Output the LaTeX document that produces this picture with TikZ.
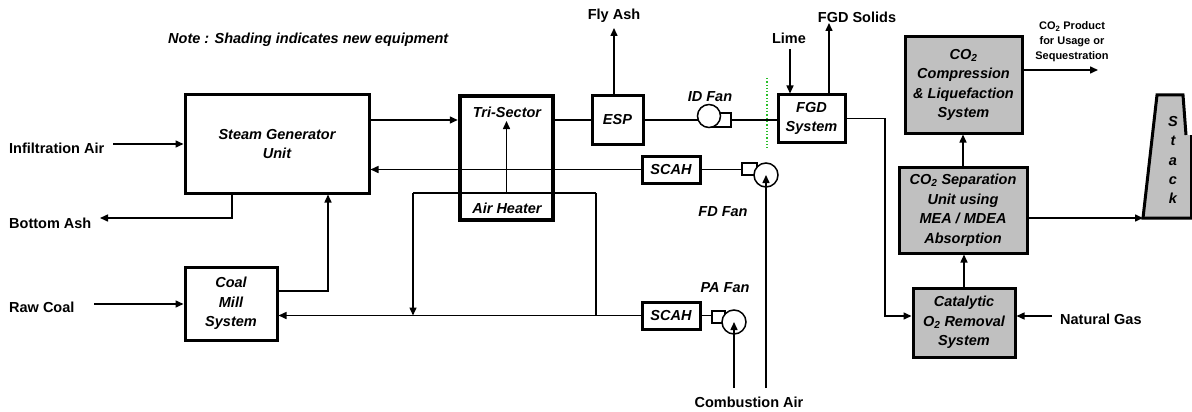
\documentclass[tikz,border=0pt]{standalone}
\usepackage{fontspec}
\setmainfont{Liberation Sans}
\usetikzlibrary{arrows.meta,calc,backgrounds}
\definecolor{dotgreen}{RGB}{40,190,40}
\definecolor{newfill}{RGB}{192,192,192}
\begin{document}
\begin{tikzpicture}[x=1pt,y=-1pt,
 lbl/.style={font=\fontsize{14.5}{19.5}\selectfont\bfseries, inner sep=0pt},
 ilbl/.style={font=\fontsize{14.5}{19.5}\selectfont\bfseries\itshape, inner sep=0pt},
 box/.style={draw, line width=3pt, inner sep=0pt, align=center, font=\fontsize{14.5}{19.5}\selectfont\bfseries\itshape},
 newbox/.style={box, fill=newfill},
 conn/.style={line width=1.5pt},
 arr/.style={conn, -{Triangle[length=8pt,width=7pt]}},
 fanrect/.style={draw, line width=1.5pt, fill=white, inner sep=0pt},
 fanc/.style={draw, line width=1.5pt, fill=white, circle, inner sep=0pt}]
\useasboundingbox (0,0) rectangle (1192,412);

% boxes
\node[box, minimum width=184pt, minimum height=98pt] (sg) at (277,144) {Steam Generator\\Unit};
\node[box, minimum width=92pt, minimum height=73pt] (cm) at (231,303.5) {Coal\\Mill\\System};
\node[draw, line width=4.5pt, minimum width=93pt, minimum height=124pt, inner sep=0pt] (ts) at (506.5,158) {};
\node[ilbl] (tstxt) at (507,112) {Tri-Sector};
\node[ilbl] (ahtxt) at (507,208) {Air Heater};
\node[box, fill=white, minimum width=51pt, minimum height=48pt] (esp) at (617.5,120) {ESP};
\node[box, fill=white, minimum width=67pt, minimum height=47pt] (fgd) at (811.5,118.5) {FGD\\System};
\node[box, fill=white, minimum width=58pt, minimum height=27pt] (scah1) at (671,169.5) {SCAH};
\node[box, fill=white, minimum width=58pt, minimum height=27pt] (scah2) at (671,315.5) {SCAH};
\node[newbox, minimum width=117pt, minimum height=96pt] (comp) at (963.5,85) {CO\textsubscript{2}\\Compression\\\& Liquefaction\\System};
\node[newbox, minimum width=128pt, minimum height=86pt] (sep) at (963,210) {CO\textsubscript{2} Separation\\Unit using\\MEA / MDEA\\Absorption};
\node[newbox, minimum width=102pt, minimum height=69pt] (cat) at (964,322.5) {Catalytic\\O\textsubscript{2} Removal\\System};

% fans
\node[fanrect, minimum width=21pt, minimum height=14pt] (idr) at (720.5,120) {};
\node[fanc, minimum size=23pt] (idc) at (709,116) {};
\node[fanrect, minimum width=15pt, minimum height=12pt] (fdr) at (749.5,169) {};
\node[fanc, minimum size=24pt] (fdc) at (766,175) {};
\node[fanrect, minimum width=13pt, minimum height=12pt] (par) at (718.5,317) {};
\node[fanc, minimum size=24pt] (pac) at (734,322) {};

% labels
\node[lbl, anchor=west] (ia) at (9,148) {Infiltration Air};
\node[lbl, anchor=west] (ba) at (9,223) {Bottom Ash};
\node[lbl, anchor=west] (rc) at (9,307) {Raw Coal};
\node[ilbl, anchor=west] (note) at (168,40) {Note : Shading indicates new equipment};
\node[lbl] (fa) at (614,16) {Fly Ash};
\node[ilbl] (idl) at (710,97) {ID Fan};
\node[lbl] (lime) at (789,38) {Lime};
\node[lbl] (fgds) at (857,17) {FGD Solids};
\node[ilbl] (fdl) at (723,212) {FD Fan};
\node[ilbl] (pal) at (725,288) {PA Fan};
\node[lbl] (ca) at (749,402) {Combustion Air};
\node[lbl, anchor=west] (ng) at (1060,319) {Natural Gas};
\node[font=\fontsize{11}{15}\selectfont\bfseries, align=center, inner sep=0pt] (prod) at (1072,42) {CO\textsubscript{2} Product\\for Usage or\\Sequestration};

% stack
\fill[newfill] (1143,218) -- (1157,95) -- (1183,95) -- (1186,135) -- (1196,135) -- (1196,218) -- cycle;
\draw[line width=3pt, line join=miter] (1196,218) -- (1143,218) -- (1157,95) -- (1183,95) -- (1186,135);
\draw[line width=3pt] (1191.5,135) -- (1191.5,218);
\node[ilbl, align=center, font=\fontsize{14.5}{19.2}\selectfont\bfseries\itshape] (stk) at (1173,160) {S\\t\\a\\c\\k};

% free ends
\coordinate (iaS) at (113,144);
\coordinate (baK) at (232,0);
\coordinate (baE) at (100,218);
\coordinate (rcS) at (94,304);
\coordinate (cmK) at (328,0);
\coordinate (lA) at (413,193);
\coordinate (lB) at (596,193);
\coordinate (flyE) at (614,28);
\coordinate (limeS) at (790,49);
\coordinate (fgdsE) at (829,23);
\coordinate (fgdK) at (885,0);
\coordinate (catL) at ($(cat.west)+(0,-6.5)$);
\coordinate (ngS) at (1052,316);
\coordinate (prodE) at (1098,70);
\coordinate (stackB) at (1143,218);
\coordinate (caPA) at (734,388);
\coordinate (caFD) at (766,388);

\begin{scope}[on background layer]
\draw[arr] (iaS) -- (sg.west |- iaS);
\draw[arr] (sg.south -| baK) |- (baE);
\draw[arr] (rcS) -- (cm.west |- rcS);
\draw[arr] ($(cm.east)+(0,-12.5)$) -| (cmK |- sg.south);
\draw[arr] (sg.east |- esp.west) -- (ts.west |- esp.west);
\draw[conn] (ts.east |- esp.west) -- (esp.west);
\draw[conn] (esp.east) -- (idc.center |- esp.east);
\draw[conn] (idr.east |- esp.east) -- (fgd.west |- esp.east);
\draw[arr] (esp.north -| flyE) -- (flyE);
\draw[arr] (limeS) -- (fgd.north -| limeS);
\draw[arr] (fgd.north -| fgdsE) -- (fgdsE);
\draw[arr] (fgd.east) -| (fgdK |- catL) -- (catL);
\draw[arr] (ngS) -- (cat.east |- ngS);
\draw[arr] (cat.north) -- (cat.north |- sep.south);
\draw[arr] (sep.north) -- (sep.north |- comp.south);
\draw[arr] (comp.east |- prodE) -- (prodE);
\draw[arr] (sep.east |- stackB) -- (stackB);
\draw[arr] (scah1.west) -- (sg.east |- scah1.west);
\draw[conn] (scah1.east) -- (fdr.west |- scah1.east);
\draw[arr] (scah2.west) -- (cm.east |- scah2.west);
\draw[conn] (scah2.east) -- (par.west |- scah2.east);
\draw[conn] (lA) -- (lB);
\draw[arr] (lA) -- (lA |- scah2.west);
\draw[conn] (lB) -- (lB |- scah2.west);
\draw[arr] (ts.center |- lA) -- ($(ts.center |- esp.west)+(0,1)$);
\draw[dotgreen, dotted, line width=1.3pt] (767,78) -- (767,148);
\end{scope}
\draw[arr] (caPA) -- (pac.center);
\draw[arr] (caFD) -- (fdc.center);
\end{tikzpicture}
\end{document}
